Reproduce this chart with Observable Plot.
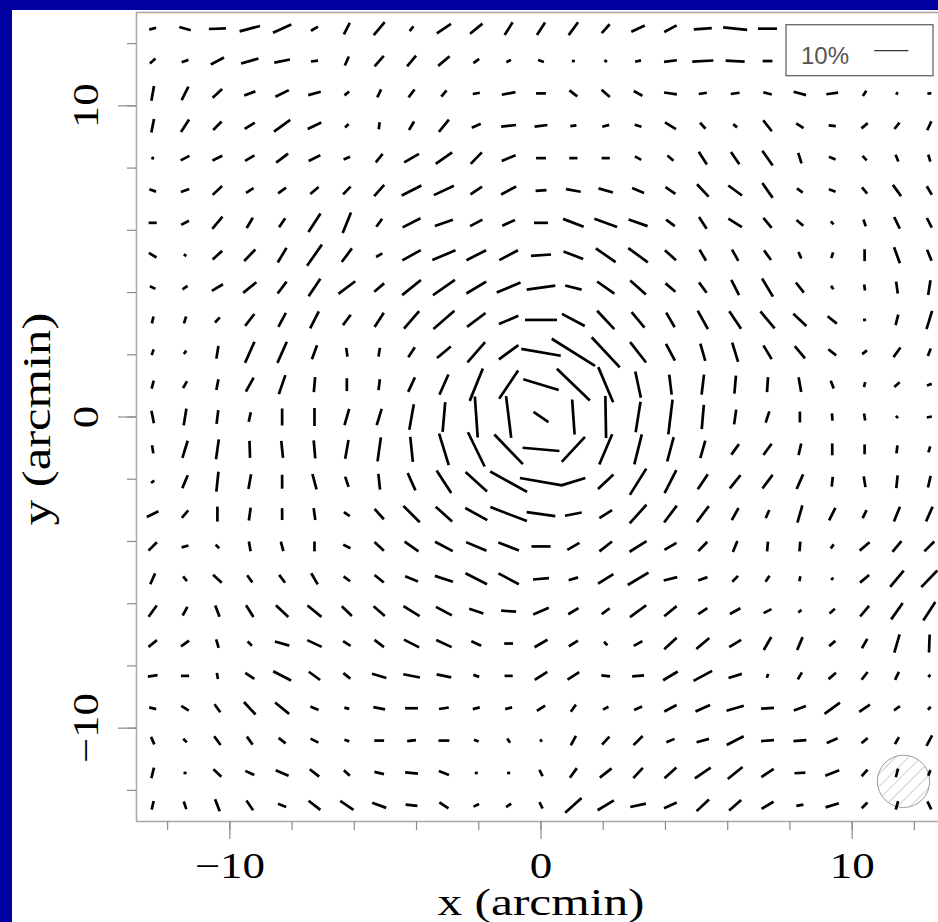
<!DOCTYPE html>
<html><head><meta charset="utf-8">
<script src="https://cdn.jsdelivr.net/npm/d3@7"></script>
<script src="https://cdn.jsdelivr.net/npm/@observablehq/plot@0.6"></script>
<style>
html,body{margin:0;padding:0;background:#0000a0;width:938px;height:922px;overflow:hidden}
#chart{position:absolute;left:12px;top:10px;width:926px;height:912px;overflow:hidden;background:#fff}
</style></head><body><div id="chart"></div>
<script>
// grid positions (arcmin)
const xs = [-12.48,-11.44,-10.40,-9.36,-8.32,-7.28,-6.24,-5.20,-4.16,-3.12,-2.08,-1.04,0,1.04,2.08,3.12,4.16,5.20,6.24,7.28,8.32,9.36,10.40,11.44,12.48];
const ys = [12.48,11.44,10.40,9.36,8.32,7.28,6.24,5.20,4.16,3.12,2.08,1.04,0,-1.04,-2.08,-3.12,-4.16,-5.20,-6.24,-7.28,-8.32,-9.36,-10.40,-11.44,-12.48];
const _ = null;
// position angle of each stick (degrees, counter-clockwise from +x), rows top to bottom
const angleRows = [
[15,164,2,15,24,31,63,50,52,34,39,58,57,54,48,25,28,4,174,0,_,_,_,_,_],
[41,19,28,16,11,8,66,49,50,40,36,27,160,0,150,13,7,3,177,0,_,_,_,_,_],
[80,63,43,20,26,15,40,64,53,50,10,11,0,143,139,151,172,9,8,165,165,8,56,60,10],
[79,57,45,32,36,25,45,82,59,51,25,6,7,7,15,163,148,133,140,128,146,175,40,52,65],
[70,27,26,30,37,26,24,51,30,35,46,22,0,0,0,151,138,123,124,125,108,158,133,113,107],
[161,20,43,32,36,40,46,48,27,25,34,28,4,170,164,158,146,133,144,125,144,160,130,126,121],
[0,28,50,59,56,57,68,54,27,19,28,24,0,159,160,161,143,123,148,130,140,132,109,116,117],
[149,150,42,46,59,55,53,30,29,23,27,28,4,159,145,144,138,120,119,126,113,73,90,110,112],
[155,34,31,39,53,56,37,40,39,35,31,23,8,166,145,138,140,126,117,121,128,123,99,98,81],
[77,72,47,52,62,63,53,57,49,41,37,23,0,152,133,130,120,119,124,130,137,141,0,76,73],
[72,55,81,66,66,70,98,81,56,40,49,36,170,148,133,128,118,106,107,121,130,142,38,54,69],
[75,61,79,61,71,85,90,83,65,66,68,56,163,136,113,102,97,83,85,86,100,112,75,41,18],
[101,81,83,78,90,90,74,73,80,85,94,97,146,94,91,81,83,85,82,72,90,95,99,135,11],
[99,73,82,92,96,95,80,82,96,107,116,134,175,47,67,76,75,74,54,54,77,90,90,83,73],
[39,67,84,80,90,105,108,96,114,123,138,151,170,17,43,58,63,56,51,53,66,84,99,84,77],
[26,49,90,82,90,98,146,132,135,138,151,159,172,11,32,48,53,53,61,66,74,63,64,68,66],
[45,15,135,100,105,90,153,137,145,152,157,159,0,30,38,32,30,46,68,85,85,55,40,50,45],
[66,129,137,126,127,120,143,141,158,162,153,152,5,17,32,31,14,20,45,56,79,45,40,50,46],
[54,61,111,122,137,141,136,139,148,152,161,176,23,31,36,36,39,33,29,27,39,41,50,55,57],
[39,35,106,135,164,155,148,143,153,155,155,0,30,33,130,29,43,40,31,60,67,40,60,74,88],
[9,0,100,146,153,144,142,163,169,168,161,0,33,33,174,5,31,28,17,72,60,41,52,64,45],
[166,148,126,133,141,158,165,169,0,9,14,14,33,54,28,24,28,24,16,3,20,36,34,35,48],
[114,135,126,126,142,153,162,0,6,0,158,124,120,62,47,45,23,15,27,4,4,24,41,61,62],
[76,0,137,155,157,142,137,167,174,158,0,0,117,54,38,47,42,34,39,34,3,21,48,75,68],
[77,109,111,124,159,142,146,160,174,146,25,34,117,42,31,12,24,43,41,31,10,17,45,75,116]
];
// polarisation / shear amplitude of each stick (%)
const percentRows = [
[2.1,3.5,5.0,6.2,5.9,2.4,3.8,5.0,1.8,5.0,4.7,4.4,4.4,4.7,3.5,4.4,4.1,5.3,7.1,5.6,_,_,_,_,_],
[2.2,2.1,4.4,5.3,4.7,2.1,2.9,4.1,4.1,4.4,2.1,1.5,1.8,0.9,0.9,1.8,3.8,6.2,5.6,2.9,_,_,_,_,_],
[4.4,4.4,3.8,3.5,4.4,3.8,1.8,2.6,2.9,2.4,2.1,4.1,2.9,2.9,3.2,2.9,3.8,2.4,2.6,2.6,3.8,3.5,1.8,0.9,1.2],
[4.1,4.4,3.5,3.5,5.9,4.4,1.5,2.1,2.9,4.7,2.9,4.4,3.8,1.8,2.1,2.1,3.8,2.4,1.5,4.1,2.6,2.1,2.4,2.4,2.9],
[0.9,2.9,3.2,3.2,4.4,3.8,2.1,3.2,5.0,5.9,4.7,4.4,2.9,2.4,2.4,2.1,2.4,4.4,4.4,5.3,3.2,2.1,1.8,2.1,2.1],
[2.1,2.6,3.8,2.6,2.9,3.2,3.2,4.4,6.5,6.5,4.1,5.0,3.2,4.4,4.4,3.8,3.5,5.0,5.0,5.3,2.1,2.1,2.4,4.1,2.9],
[2.4,2.6,4.7,3.5,3.2,6.5,6.5,2.9,5.9,5.6,4.1,4.1,4.1,6.5,7.1,5.9,3.2,4.1,4.7,3.8,2.6,1.2,2.1,3.8,3.2],
[2.6,0.9,3.8,4.7,5.0,7.6,5.0,2.1,6.2,7.4,6.5,6.2,5.9,6.2,7.1,7.1,4.4,3.8,3.8,3.5,2.1,1.8,3.5,5.0,3.5],
[1.8,1.8,3.8,5.0,4.4,6.2,6.2,3.8,7.1,7.9,6.8,7.6,8.5,5.0,6.2,6.2,3.8,3.8,5.0,6.2,3.8,1.2,1.8,3.5,4.4],
[2.1,2.1,2.1,4.4,4.7,5.6,3.8,5.0,6.8,8.2,6.8,6.2,9.4,7.6,7.4,5.9,5.0,6.2,6.2,6.5,5.3,3.5,0.9,3.2,5.6],
[1.8,1.2,3.8,6.8,6.8,4.4,2.6,2.6,3.5,5.3,7.9,7.1,11.8,15.0,12.1,7.6,5.6,5.3,5.9,4.7,4.7,2.9,1.8,3.5,2.4],
[2.4,2.4,3.2,4.7,5.9,4.4,3.8,3.2,4.7,6.5,10.3,10.0,10.9,13.5,11.2,7.9,5.9,5.9,5.3,4.4,4.4,2.4,1.5,2.1,1.5],
[3.8,5.0,4.1,2.9,5.0,5.3,5.0,5.0,7.6,8.8,12.1,12.4,5.3,10.3,12.4,9.1,10.3,7.1,4.4,3.5,3.2,2.1,2.1,0.9,1.5],
[2.4,5.3,5.9,5.0,5.0,5.3,5.6,7.1,7.4,9.7,11.2,12.1,10.9,10.0,9.7,9.1,7.4,5.3,3.8,4.1,3.5,3.5,2.9,2.4,1.8],
[1.2,4.1,5.9,4.4,4.1,4.7,3.2,4.7,5.6,7.9,8.5,12.4,12.6,7.4,6.2,9.1,7.6,5.3,5.0,5.0,4.7,2.9,3.2,3.8,3.5],
[3.8,2.9,4.4,3.8,3.5,3.5,2.1,4.1,6.8,6.5,7.4,11.5,8.5,5.0,4.4,7.4,6.2,5.9,4.1,2.6,5.3,4.1,2.6,4.7,4.7],
[3.5,2.1,1.5,2.9,2.9,2.9,2.4,3.8,5.0,5.9,6.5,6.5,5.6,4.1,4.7,5.9,4.1,3.8,3.5,2.9,2.9,1.5,3.8,4.1,4.1],
[3.5,1.8,3.5,2.6,2.9,3.8,2.4,3.5,4.1,5.6,7.1,6.8,4.7,2.9,5.3,7.1,4.1,2.9,2.4,2.1,1.5,0.9,3.5,6.2,6.8],
[4.1,2.9,3.5,4.1,5.0,5.3,4.1,4.4,5.6,5.3,4.4,4.4,5.0,3.5,2.9,5.9,4.7,3.2,3.5,2.6,1.2,2.1,4.1,5.9,6.5],
[3.2,2.9,2.6,1.8,4.4,4.7,2.6,3.5,5.0,5.0,3.2,2.6,4.4,3.2,1.5,2.9,5.0,5.0,4.1,4.4,4.1,2.4,3.2,5.6,5.3],
[2.9,2.4,1.8,3.2,5.9,4.1,2.6,4.4,5.0,4.4,1.8,2.4,4.4,4.1,2.6,3.5,5.0,6.2,4.1,1.2,2.4,2.9,2.9,2.6,0.9],
[2.1,2.6,2.9,5.0,5.3,2.6,1.5,3.5,3.8,2.9,2.1,2.1,2.9,2.6,1.8,2.6,4.1,4.7,5.3,3.8,3.8,5.6,3.8,2.1,1.2],
[2.4,1.5,3.2,2.9,2.6,2.6,1.5,2.9,2.6,3.2,1.5,1.5,0.9,3.2,3.2,3.8,2.6,3.8,5.6,3.8,3.8,3.5,2.4,2.4,3.5],
[3.2,0.9,3.2,2.9,4.1,3.5,2.4,2.9,3.8,3.2,0.9,0.9,2.1,3.5,4.4,4.1,4.7,5.6,5.6,4.4,3.2,4.4,2.6,2.6,1.8],
[2.6,2.4,3.8,3.5,2.6,4.4,4.7,4.4,3.5,3.2,1.8,1.8,2.1,6.5,5.6,4.7,4.1,5.0,4.7,4.1,2.1,4.1,2.4,2.6,2.6]
];
const arcminPerPercent = 0.1093;          // stick length (arcmin) for 1 %
const legendPercent = 10;
const legendLabel = "10%";
const beam = [{x: 11.65, y: -11.71, radius: 0.84}];   // smoothing beam (arcmin)
const minorTicks = [-12,-10,-8,-6,-4,-2,0,2,4,6,8,10,12];
const majorTicks = [-10, 0, 10];
const tickLabels = ["\u221210", "0", "10"];
const xLabel = "x (arcmin)", yLabel = "y (arcmin)";

const vectors = [];
ys.forEach((y, r) => xs.forEach((x, c) => {
  const a = angleRows[r][c], p = percentRows[r][c];
  if (a == null || p == null) return;
  const h = p * arcminPerPercent / 2, t = a * Math.PI / 180;
  vectors.push({x1: x - h * Math.cos(t), y1: y - h * Math.sin(t), x2: x + h * Math.cos(t), y2: y + h * Math.sin(t)});
}));

const W = 960, H = 912, mL = 124, mR = 27, mT = 2, mB = 101;
const pxPerArcmin = (W - mL - mR) / 26;
const tickStyle = {stroke: "#8c8c8c", strokeWidth: 1.2, tickFormat: () => "", label: null};

const plot = Plot.plot({
  width: W, height: H, marginLeft: mL, marginRight: mR, marginTop: mT, marginBottom: mB,
  x: {domain: [-13, 13]},
  y: {domain: [-13, 13]},
  style: {fontFamily: "'Liberation Serif','Times New Roman',serif", background: "white", color: "black", maxWidth: "none", overflow: "visible"},
  marks: [
    Plot.dot(beam, {x: "x", y: "y", r: beam[0].radius * pxPerArcmin, fill: "url(#hatch)", stroke: "#9a9a9a", strokeWidth: 1}),
    Plot.link(vectors, {x1: "x1", y1: "y1", x2: "x2", y2: "y2", stroke: "black", strokeWidth: 2.7}),
    Plot.frame({stroke: "#aaaaaa", strokeWidth: 1.6}),
    Plot.axisX(minorTicks, {anchor: "bottom", tickSize: 9, ...tickStyle}),
    Plot.axisX(majorTicks, {anchor: "bottom", tickSize: 18, ...tickStyle}),
    Plot.axisY(minorTicks, {anchor: "left", tickSize: 9, ...tickStyle}),
    Plot.axisY(majorTicks, {anchor: "left", tickSize: 18, ...tickStyle}),
    Plot.text(majorTicks, {x: d => d, frameAnchor: "bottom", lineAnchor: "top", dy: 31, text: (d, i) => tickLabels[i], fontSize: 36, fill: "black"}),
    Plot.text(majorTicks, {y: d => d, frameAnchor: "left", rotate: -90, lineAnchor: "bottom", textAnchor: "middle", dx: -39, text: (d, i) => tickLabels[i], fontSize: 36, fill: "black"}),
    Plot.text([xLabel], {frameAnchor: "bottom", lineAnchor: "bottom", textAnchor: "middle", dy: 93, text: d => d, fontSize: 38, fill: "black"}),
    Plot.text([yLabel], {frameAnchor: "left", rotate: -90, lineAnchor: "bottom", textAnchor: "middle", dx: -87, dy: 2, text: d => d, fontSize: 39, fill: "black"})
  ]
});
document.getElementById("chart").appendChild(plot);

const svg = d3.select(plot);
// widen serif labels (original font is broader)
svg.selectAll("text").each(function () {
  if (!this.textContent) return;
  const w = this.getComputedTextLength();
  const k = this.textContent === xLabel || this.textContent === yLabel ? 1.3 : 1.25;
  this.setAttribute("textLength", w * k);
  this.setAttribute("lengthAdjust", "spacingAndGlyphs");
});
// hatch pattern for the beam
const defs = svg.insert("defs", ":first-child");
const pat = defs.append("pattern").attr("id", "hatch").attr("patternUnits", "userSpaceOnUse")
  .attr("width", 9).attr("height", 9).attr("patternTransform", "rotate(45)");
pat.append("rect").attr("width", 9).attr("height", 9).attr("fill", "white");
pat.append("line").attr("x1", 0).attr("y1", 0).attr("x2", 0).attr("y2", 9).attr("stroke", "#a0a0a0").attr("stroke-width", 1);

// legend box
const sx = plot.scale("x"), sy = plot.scale("y");
const fr = sx.apply(13), ft = sy.apply(13);
const bw = 147, bh = 51, bx = fr - 12 - bw, by = ft + 12.7;
const g = svg.append("g");
g.append("rect").attr("x", bx).attr("y", by).attr("width", bw).attr("height", bh)
  .attr("fill", "white").attr("stroke", "#666").attr("stroke-width", 1.3);
g.append("text").attr("x", bx + 15).attr("y", by + 39.3).attr("text-anchor", "start").text(legendLabel)
  .attr("font-family", "'Liberation Sans',Arial,sans-serif").attr("font-size", 24).attr("fill", "#555");
const L = sx.apply(legendPercent * arcminPerPercent) - sx.apply(0);
g.append("line").attr("x1", bx + 88.3).attr("x2", bx + 88.3 + L).attr("y1", by + 26).attr("y2", by + 26)
  .attr("stroke", "#333").attr("stroke-width", 1.3);
</script></body></html>
